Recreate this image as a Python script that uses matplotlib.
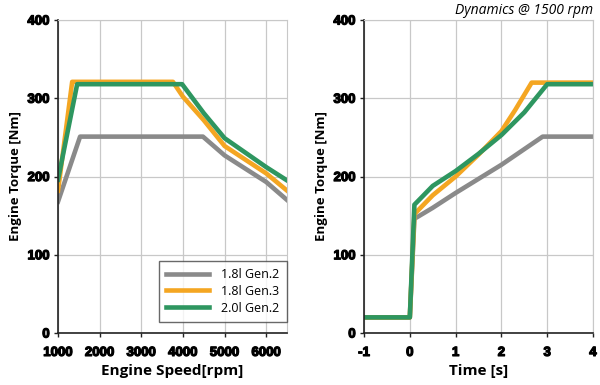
import matplotlib
matplotlib.use("Agg")
import matplotlib.pyplot as plt
import matplotlib.patheffects as pe

plt.rcParams["axes.unicode_minus"] = False

# full load curves
rpm_gen2_18 = [1000, 1530, 4480, 5000, 6000, 6500]
tq_gen2_18 = [168, 251, 251, 227, 193, 170]
rpm_gen3_18 = [1000, 1340, 3760, 4000, 4500, 5000, 6000, 6500]
tq_gen3_18 = [182, 321, 321, 302, 272, 239, 204, 182]
rpm_gen2_20 = [1000, 1460, 3980, 4500, 5000, 6000, 6500]
tq_gen2_20 = [196, 318, 318, 281, 249, 212, 195]

# torque build-up at 1500 rpm
t_gen2_18 = [-1, 0.0, 0.1, 0.5, 1.0, 2.0, 2.9, 4]
d_gen2_18 = [20, 20, 146, 160, 179, 215, 251, 251]
t_gen3_18 = [-1, 0.0, 0.1, 0.5, 1.0, 1.5, 2.0, 2.3, 2.66, 4]
d_gen3_18 = [20, 20, 152, 176, 200, 228, 258, 285, 320, 320]
t_gen2_20 = [-1, 0.0, 0.1, 0.5, 1.0, 1.5, 2.0, 2.5, 3.0, 4]
d_gen2_20 = [20, 20, 164, 188, 207, 229, 253, 282, 318, 318]

labels = ["1.8l Gen.2", "1.8l Gen.3", "2.0l Gen.2"]
colors = ["#8a8a8a", "#f4a622", "#2e9660"]

fig = plt.figure(figsize=(6, 3.85), dpi=100)
ax1 = fig.add_axes([0.0967, 0.135, 0.3817, 0.813])
ax2 = fig.add_axes([0.6067, 0.135, 0.3817, 0.813])

ax1.plot(rpm_gen2_18, tq_gen2_18, color=colors[0], lw=3.3, label=labels[0])
ax1.plot(rpm_gen3_18, tq_gen3_18, color=colors[1], lw=3.3, label=labels[1])
ax1.plot(rpm_gen2_20, tq_gen2_20, color=colors[2], lw=3.3, label=labels[2])

ax2.plot(t_gen2_18, d_gen2_18, color=colors[0], lw=3.3)
ax2.plot(t_gen3_18, d_gen3_18, color=colors[1], lw=3.3)
ax2.plot(t_gen2_20, d_gen2_20, color=colors[2], lw=3.3)

heavy = [pe.withStroke(linewidth=0.9, foreground="black")]

for ax in (ax1, ax2):
    ax.set_ylim(0, 400)
    ax.set_yticks([0, 100, 200, 300, 400])
    ax.grid(True, color="#c8c8c8", lw=0.9)
    ax.set_axisbelow(True)
    for s in ("top", "right"):
        ax.spines[s].set_color("#c8c8c8")
    for s in ("left", "bottom"):
        ax.spines[s].set_color("#222222")
        ax.spines[s].set_linewidth(1.2)
    ax.tick_params(length=3, width=1, color="#222222")
    ax.tick_params(axis="x", pad=7)
    ax.tick_params(axis="y", pad=3)
    ax.set_ylabel("Engine Torque [Nm]", fontsize=9.5, fontweight="bold",
                  family="Open Sans", labelpad=4)

ax1.set_xlim(1000, 6500)
ax1.set_xticks([1000, 2000, 3000, 4000, 5000, 6000])
ax1.set_xlabel("Engine Speed[rpm]", fontsize=11, fontweight="bold",
               family="Open Sans", labelpad=4)

ax2.set_xlim(-1, 4)
ax2.set_xticks([-1, 0, 1, 2, 3, 4])
ax2.set_xlabel("Time [s]", fontsize=11, fontweight="bold",
               family="Open Sans", labelpad=4)

for ax in (ax1, ax2):
    for lab in ax.get_xticklabels() + ax.get_yticklabels():
        lab.set_family("Liberation Sans")
        lab.set_weight("bold")
        lab.set_size(9.5)
        lab.set_path_effects(heavy)

ax2.set_title("Dynamics @ 1500 rpm", loc="right", fontsize=10,
              style="italic", family="Open Sans", pad=4)

leg = ax1.legend(loc="lower right", fontsize=9, frameon=True, fancybox=False,
                 handlelength=3.4, handletextpad=1.0, borderpad=0.6,
                 labelspacing=0.3, borderaxespad=0,
                 bbox_to_anchor=(1.0, 0.035))
leg.get_frame().set_edgecolor("#444444")
leg.get_frame().set_linewidth(1.0)
for txt in leg.get_texts():
    txt.set_family("Open Sans")

fig.savefig("out.png", dpi=100)
